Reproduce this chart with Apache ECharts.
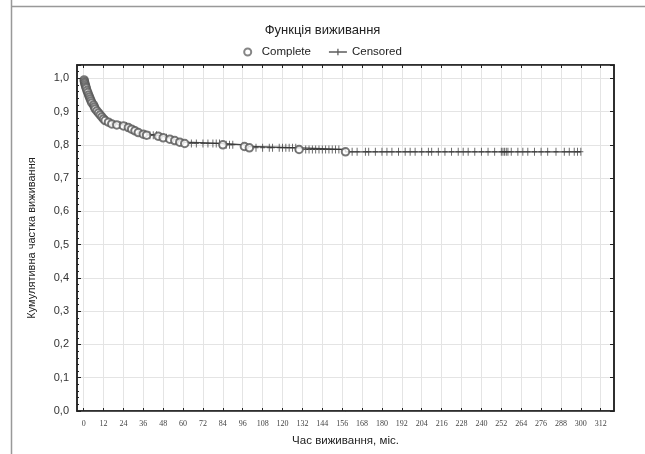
<!DOCTYPE html>
<html><head><meta charset="utf-8">
<script src="https://cdn.jsdelivr.net/npm/echarts@6/dist/echarts.min.js"></script>
<style>html,body{margin:0;padding:0;background:#fff}#c{width:645px;height:454px}</style>
</head><body><div id="c"></div>
<script>
// Kaplan-Meier estimate after each complete event: [time, survival]
const completeTimes = [0.3,0.5,0.7,1,1.3,1.6,2,2.5,3,3.5,4,4.5,5,6,6.5,7,8,9,10,11,12,13,15,17,20,24,27,29,31,33,36,38,45,48,52,55,58,61,84,97,100,130,158];
const completeSurv  = [0.995,0.99,0.985,0.98,0.975,0.97,0.963,0.957,0.95,0.944,0.938,0.932,0.926,0.92,0.914,0.908,0.902,0.896,0.89,0.884,0.878,0.873,0.868,0.863,0.86,0.857,0.852,0.847,0.842,0.837,0.832,0.829,0.826,0.821,0.817,0.813,0.808,0.804,0.800,0.795,0.791,0.786,0.779];
// Censored observation times
const censoredTimes = [14,22,26,40,42,44,50,65,68,72,75,78,80,82,86,88,90,104,108,112,114,118,120,122,124,126,128,134,136,138,140,142,144,146,148,150,152,154,162,165,170,172,176,180,183,186,190,194,197,200,204,208,210,214,218,222,226,229,232,236,240,244,248,252,253,254,255,256,258,262,265,268,272,276,280,285,290,293,296,298,300];
const xTicks = [0,12,24,36,48,60,72,84,96,108,120,132,144,156,168,180,192,204,216,228,240,252,264,276,288,300,312];

function survAt(t){ let s=1; for(let i=0;i<completeTimes.length;i++){ if(completeTimes[i]<=t) s=completeSurv[i]; } return s; }

const stepData = [[0,1]];
completeTimes.forEach((t,i)=>stepData.push([t,completeSurv[i]]));
stepData.push([censoredTimes[censoredTimes.length-1], survAt(censoredTimes[censoredTimes.length-1])]);
const completeData = completeTimes.map((t,i)=>[t,completeSurv[i]]);
const censData = censoredTimes.map(t=>[t,survAt(t)]);

const plusPath = 'path://M-0.18,-1H0.18V1H-0.18Z M-1,-0.12H1V0.12H-1Z';
const font = 'Liberation Sans, Arial, sans-serif';
const chart = echarts.init(document.getElementById('c'));
const xBase = {type:'value', min:-4, max:320, gridIndex:0};
chart.setOption({
  animation:false,
  backgroundColor:'#fff',
  title:{text:'Функція виживання', left:'center', top:19, textStyle:{fontFamily:font, fontSize:13, fontWeight:'normal', color:'#222'}},
  legend:{top:41, left:'center', itemGap:18, itemWidth:18, itemHeight:7,
    textStyle:{fontFamily:font, fontSize:11.5, color:'#222'},
    data:[{name:'Complete', icon:'emptyCircle', itemStyle:{color:'#666', borderColor:'#666', borderWidth:1}},
          {name:'Censored', icon:'path://M0,4.1H20V5.9H0Z M9.3,1.5H10.7V8.5H9.3Z', itemStyle:{color:'#333'}}]},
  graphic:[
    {type:'line', shape:{x1:11.5,y1:0,x2:11.5,y2:454}, style:{stroke:'#999', lineWidth:1.5}},
    {type:'line', shape:{x1:11,y1:6.5,x2:645,y2:6.5}, style:{stroke:'#999', lineWidth:1.5}}
  ],
  grid:{left:77, right:31, top:65, bottom:43, show:true, borderColor:'#222', borderWidth:1.5, backgroundColor:'#fff'},
  xAxis:[
    Object.assign({}, xBase, {position:'bottom',
      name:'Час виживання, міс.', nameLocation:'middle', nameGap:24,
      nameTextStyle:{fontFamily:font, fontSize:11.5, color:'#222'},
      axisLine:{show:true, onZero:false, lineStyle:{color:'#222', width:1.5}},
      axisTick:{show:true, inside:true, length:3, customValues:xTicks, lineStyle:{color:'#222'}},
      axisLabel:{customValues:xTicks, fontFamily:'Liberation Serif, serif', fontSize:8, color:'#444', margin:9},
      splitLine:{show:true, lineStyle:{color:'#e4e4e4', width:1}}}),
    Object.assign({}, xBase, {position:'top',
      axisLine:{show:true, onZero:false, lineStyle:{color:'#222', width:1.5}},
      axisTick:{show:true, inside:true, length:3, customValues:xTicks, lineStyle:{color:'#222'}},
      axisLabel:{show:false}, splitLine:{show:false}})
  ],
  yAxis:[
    {type:'value', min:0, max:1.04, interval:0.1, position:'left',
      name:'Кумулятивна частка виживання', nameLocation:'middle', nameGap:40,
      nameTextStyle:{fontFamily:font, fontSize:11, color:'#222'},
      axisLine:{show:true, onZero:false, lineStyle:{color:'#222', width:1.5}},
      axisTick:{show:true, inside:true, length:4, lineStyle:{color:'#222'}},
      minorTick:{show:true, splitNumber:5, length:2, lineStyle:{color:'#222'}},
      axisLabel:{showMaxLabel:false, fontFamily:font, fontSize:11, color:'#333', margin:8,
        formatter:v=>Math.abs(v*10-Math.round(v*10))<1e-6 ? v.toFixed(1).replace('.',',') : ''},
      splitLine:{show:true, lineStyle:{color:'#e4e4e4', width:1}}},
    {type:'value', min:0, max:1.04, interval:0.1, position:'right',
      axisLine:{show:true, onZero:false, lineStyle:{color:'#222', width:1.5}},
      axisTick:{show:true, inside:true, length:4, lineStyle:{color:'#222'}},
      axisLabel:{show:false}, splitLine:{show:false}}
  ],
  series:[
    {name:'KM', type:'line', step:'end', data:stepData, symbol:'none', xAxisIndex:0, yAxisIndex:0,
      lineStyle:{color:'#444', width:1.3}, z:2},
    {name:'Censored', type:'scatter', data:censData, symbol:plusPath, symbolSize:[5,8],
      itemStyle:{color:'#333'}, z:3},
    {name:'Complete', type:'scatter', data:completeData, symbol:'emptyCircle', symbolSize:7.5,
      itemStyle:{color:'#555', borderColor:'#555', borderWidth:1}, z:4}
  ]
});
</script></body></html>
